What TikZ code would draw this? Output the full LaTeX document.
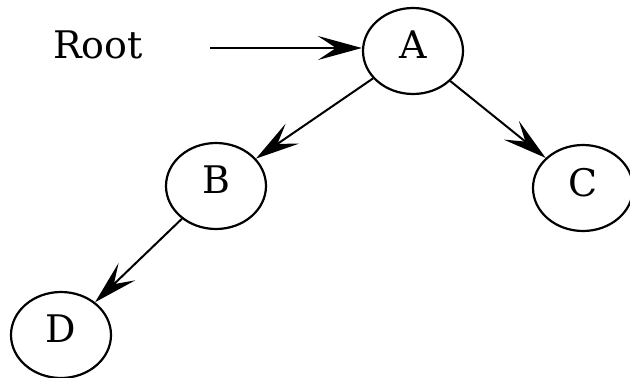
\documentclass[tikz,border=0pt]{standalone}
\usepackage{fontspec}
\newfontfamily\labelfont{DejaVu Serif}
\usetikzlibrary{shapes.geometric,arrows.meta}

\begin{document}
\begin{tikzpicture}[
    x=1pt, y=-1pt,
    label text/.style={font=\labelfont\fontsize{38}{42}\selectfont},
    treenode/.style={ellipse, draw=black, line width=2.2pt, inner sep=0pt,
                     minimum width=100pt, minimum height=86pt,
                     text depth=12pt, label text},
    link/.style={draw=black, line width=2pt,
                 -{Stealth[length=44pt, width=24pt, inset=18pt]}},
]
    \useasboundingbox (0,0) rectangle (630,378);

    % Label for the root pointer
    \node[anchor=base west, inner sep=0pt, label text]
        (rootlabel) at (53,58) {Root};

    % Tree nodes
    \node[treenode] (A) at (413,51) {A};
    \node[treenode] (B) at (216,186) {B};
    \node[treenode] (C) at (583,188) {C};
    \node[treenode] (D) at (61,335) {D};

    % Root pointer
    \coordinate (tail) at (210,48);
    \draw[link] (tail) -- (tail -| A.west);

    % Child links
    \draw[link] (A) -- (B);
    \draw[link] (A) -- (C);
    \draw[link] (B) -- (D);
\end{tikzpicture}
\end{document}
